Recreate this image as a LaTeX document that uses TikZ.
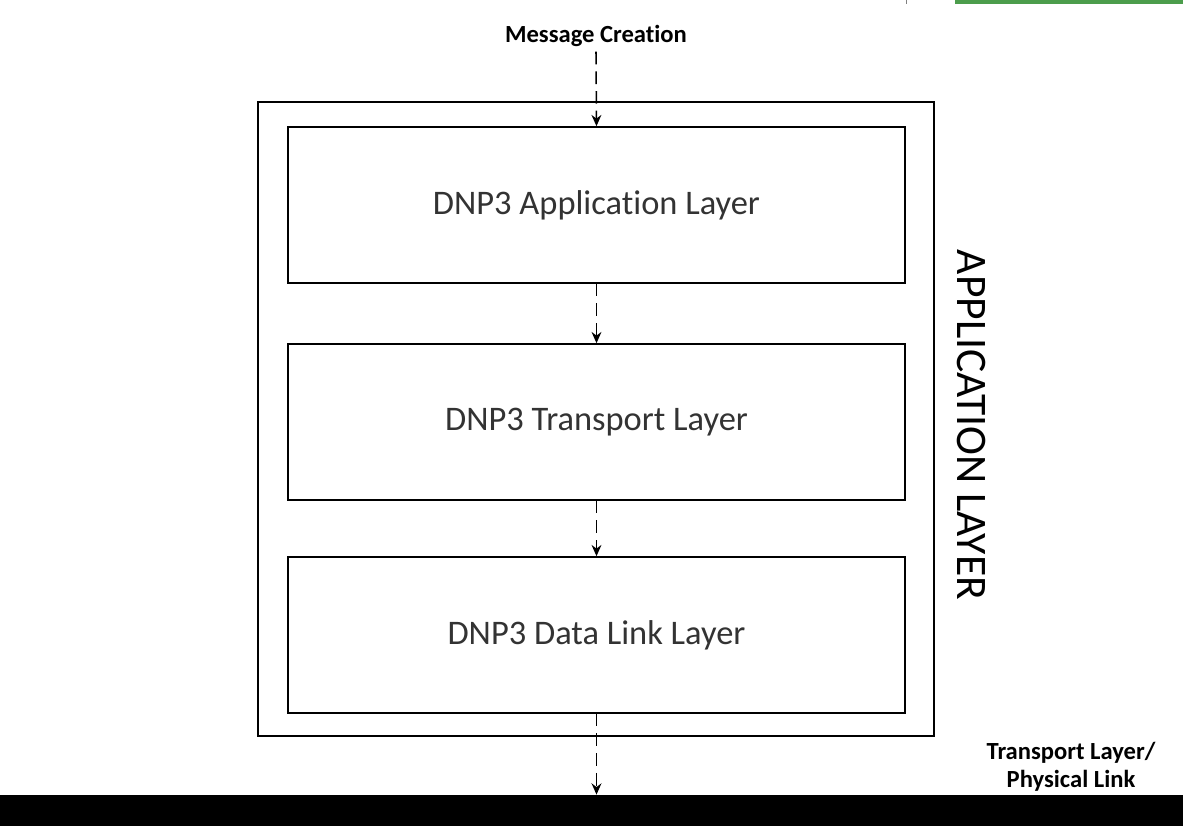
\documentclass[tikz,border=0pt]{standalone}
\usepackage{fontspec}
\setmainfont[Ligatures={NoCommon}]{Carlito}
\usetikzlibrary{arrows.meta}
\tikzset{
  layerbox/.style={draw,line width=1.1pt,minimum width=15.425cm,minimum height=3.9cm,
    font=\fontsize{24.5}{28}\selectfont,text=black!80},
  flowarrow/.style={-{Stealth[length=8pt,width=7pt]},line width=1.1pt,dash pattern=on 9pt off 5pt},
  smalllabel/.style={font=\bfseries\fontsize{17.5}{20}\selectfont}
}
\begin{document}
\begin{tikzpicture}[x=0.025cm,y=-0.025cm]
  % canvas
  \useasboundingbox (0,0) rectangle (1183,826);
  \fill[green!45!black!70!white] (955,0) rectangle (1183,4);
  \draw[gray,line width=0.6pt] (906,0) -- (906,4);

  % outer frame
  \node[draw,line width=1.1pt,minimum width=16.9cm,minimum height=15.85cm] (stack) at (596,419) {};
  \node[rotate=-90,font=\fontsize{31}{34}\selectfont] (applabel) at (971,425) {APPLICATION LAYER};

  % layers
  \node[layerbox] (app) at (596.5,205) {DNP3 Application Layer};
  \node[layerbox] (trans) at (596.5,422) {DNP3 Transport Layer};
  \node[layerbox] (link) at (596.5,635) {DNP3 Data Link Layer};

  % physical medium
  \node[fill=black,inner sep=0pt,minimum width=29.575cm,minimum height=0.78cm] (bar) at (591.5,810.5) {};
  \node[smalllabel,align=center] (phys) at (1071,767) {Transport Layer/\\Physical Link};

  % message flow
  \node[smalllabel] (msg) at (596,36) {Message Creation};
  \draw[flowarrow] (msg.south) -- (app.north);
  \draw[flowarrow] (app.south) -- (trans.north);
  \draw[flowarrow] (trans.south) -- (link.north);
  \draw[flowarrow] (link.south) -- (link.south |- bar.north);
\end{tikzpicture}
\end{document}
